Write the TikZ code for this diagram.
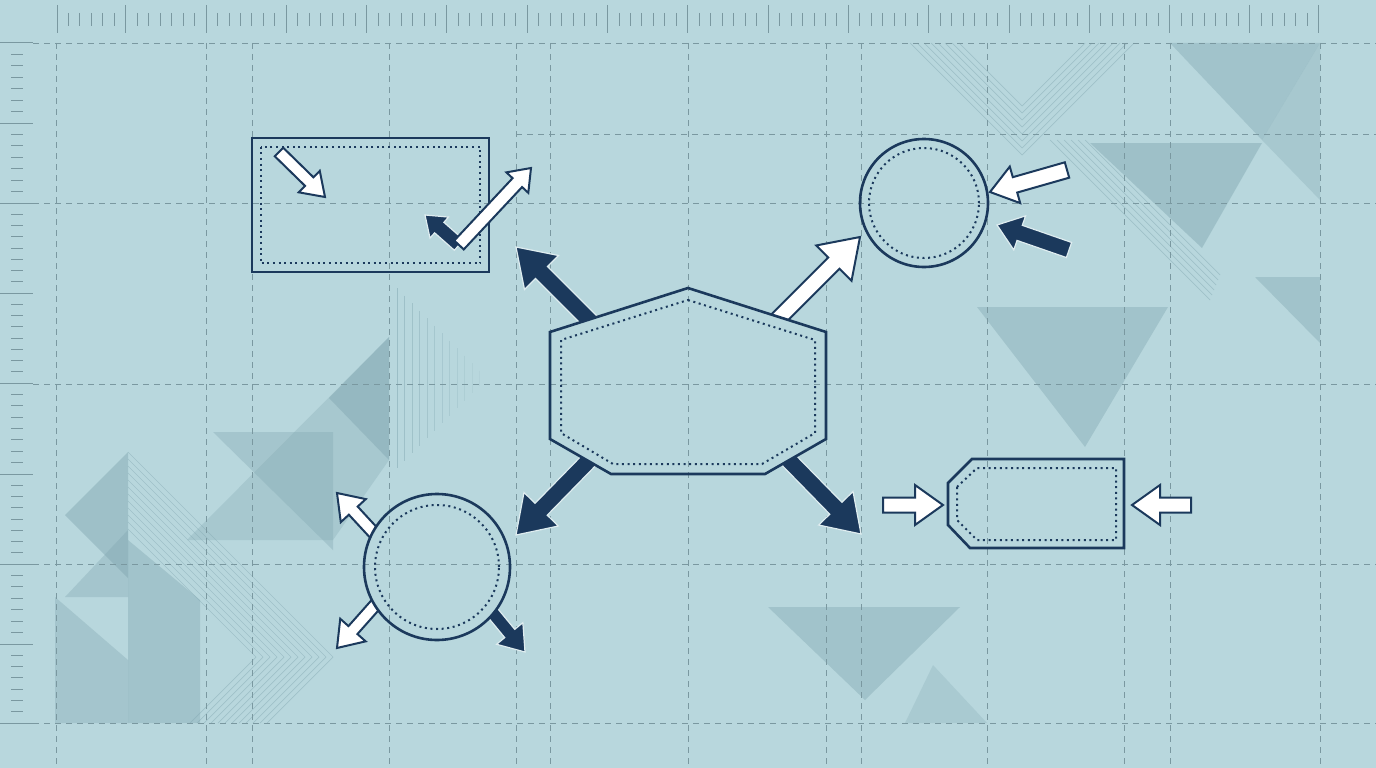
\documentclass[tikz,border=0pt]{standalone}
\usetikzlibrary{calc}

\definecolor{paper}{RGB}{184,215,221}
\definecolor{navy}{RGB}{27,57,92}
\definecolor{gridgray}{RGB}{122,152,160}
\definecolor{shade}{RGB}{128,166,176}

% fat arrow: style, from, to, half shaft, half head, head length
\newcommand{\fatarrow}[6]{%
  \coordinate (neck) at ($(#3)!#6!(#2)$);
  \draw[#1] ($(#2)!#4!90:(#3)$) -- ($(neck)!#4!-90:(#2)$) -- ($(neck)!#5!-90:(#2)$)
    -- (#3) -- ($(neck)!#5!90:(#2)$) -- ($(neck)!#4!90:(#2)$) -- ($(#2)!#4!-90:(#3)$) -- cycle;
}
\newcommand{\gridlines}{%
  \foreach \gx in {56,206,252,389,516,550,688,826,861,987,1124,1170,1320}
    \draw[gridline] (\gx,43) -- (\gx,768);
  \foreach \gy in {43,203,384,564,723}
    \draw[gridline] (33,\gy) -- (1376,\gy);
  \draw[gridline] (516,134) -- (1376,134);
}
\newcommand{\hubpath}{(688,288) -- (826,332) -- (826,439) -- (765,474) -- (611,474) -- (550,439) -- (550,332) -- cycle}

\begin{document}
\begin{tikzpicture}[x=1pt, y=-1pt,
  gridline/.style={draw=gridgray, line width=0.9pt, dash pattern=on 6pt off 5pt},
  tick/.style={draw=gridgray, line width=1pt},
  tri/.style={fill=shade, fill opacity=#1}, tri/.default=0.45,
  hatch/.style={draw=shade, line width=0.7pt, opacity=0.45},
  outline/.style={draw=navy, line width=2.6pt},
  dotline/.style={draw=navy, line width=2pt, dash pattern=on 2pt off 3.6pt},
  ring/.style={circle, outline, inner sep=0pt},
  darkarrow/.style={fill=navy, draw=white!55!paper, line width=1.2pt, line join=miter},
  lightarrow/.style={fill=white, draw=navy, line width=2pt, line join=miter}]
	\fill[paper] (0,0) rectangle (1376,768);
	\useasboundingbox (0,0) rectangle (1376,768);
	%
	\fill[tri=0.3] (389,337) -- (187,540) -- (333,540) -- (389,460) -- cycle;
	\fill[tri=0.35] (213,432) -- (333,432) -- (333,550) -- cycle;
	\fill[tri] (389,337) -- (389,460) -- (329,398) -- cycle;
	\fill[tri] (128,452) -- (65,515) -- (128,578) -- cycle;
	\fill[tri=0.35] (65,597) -- (128,530) -- (128,597) -- cycle;
	\fill[tri=0.35] (55,597) -- (128,660) -- (128,723) -- (55,723) -- cycle;
	\fill[tri=0.4] (128,540) -- (200,600) -- (200,723) -- (128,723) -- cycle;
	\fill[tri=0.4] (1170,43) -- (1320,43) -- (1262,140) -- cycle;
	\fill[tri=0.3] (1320,43) -- (1320,200) -- (1262,140) -- cycle;
	\fill[tri] (1090,143) -- (1262,143) -- (1202,248) -- cycle;
	\fill[tri=0.4] (1255,277) -- (1320,277) -- (1320,343) -- cycle;
	\fill[tri=0.4] (977,307) -- (1168,307) -- (1085,447) -- cycle;
	\fill[tri=0.4] (768,607) -- (960,607) -- (865,700) -- cycle;
	\fill[tri=0.25] (933,665) -- (905,723) -- (987,723) -- cycle;
	%
	\foreach \i in {0,...,11} {
		\pgfmathsetmacro\ax{333-7*\i}
		\draw[hatch] (128,{657-(\ax-128)}) -- (\ax,657) -- ({\ax-66},723);
	}
	\foreach \i in {0,...,11} {
		\pgfmathsetmacro\hx{397+7.5*\i}
		\pgfmathsetmacro\hl{90*(1-\i/12)}
		\draw[hatch, opacity={0.5*(1-\i/14)}] (\hx,{378-\hl}) -- (\hx,{378+\hl});
	}
	\foreach \i in {0,...,7} {
		\pgfmathsetmacro\vy{155-7*\i}
		\draw[hatch] ({1022-(\vy-43)},43) -- (1022,\vy) -- ({1022+(\vy-43)},43);
	}
	\foreach \i in {0,...,5}
		\draw[hatch] ({1050+7*\i},140) -- ({1050+7*\i+160-5*\i},{140+160-5*\i});
	%
	\gridlines
	%
	\foreach \k in {0,...,110} {
		\pgfmathsetmacro\tx{57+11.47*\k}
		\pgfmathtruncatemacro\ismajor{(\k==0)||(\k==110)||(mod(\k+1,7)==0)}
		\ifnum\ismajor=1 \draw[tick] (\tx,5) -- (\tx,33);
		\else \draw[tick] (\tx,13) -- (\tx,26); \fi
	}
	\foreach \ya/\yb/\ns in {43/123/7,123/203/7,203/293/8,293/383/8,383/474/8,474/564/8,564/644/7,644/723/7} {
		\draw[tick] (0,\ya) -- (33,\ya);
		\pgfmathtruncatemacro\ms{\ns-1}
		\foreach \i in {1,...,\ms}
			\draw[tick] (11,{\ya+(\yb-\ya)*\i/\ns}) -- (23,{\ya+(\yb-\ya)*\i/\ns});
	}
	\draw[tick] (0,723) -- (33,723);
	%
	\coordinate (hub) at (688,381);
	\coordinate (hub-nw) at (602,333);
	\coordinate (hub-ne) at (770,327);
	\coordinate (hub-sw) at (600,449);
	\coordinate (hub-se) at (775,446);
	\coordinate (tip-nw) at (516,247);
	\coordinate (tip-ne) at (860,237);
	\coordinate (tip-sw) at (516,535);
	\coordinate (tip-se) at (861,534);
	\fatarrow{darkarrow}{hub-nw}{tip-nw}{8.5pt}{24pt}{36pt}
	\fatarrow{lightarrow}{hub-ne}{tip-ne}{8pt}{25pt}{37pt}
	\fatarrow{darkarrow}{hub-sw}{tip-sw}{8.5pt}{24pt}{36pt}
	\fatarrow{darkarrow}{hub-se}{tip-se}{8.5pt}{24pt}{36pt}
	%
	\coordinate (bl-nw) at (385,545);
	\coordinate (bl-sw) at (385,594);
	\coordinate (bl-se) at (483,601);
	\coordinate (tip-blnw) at (337,493);
	\coordinate (tip-blsw) at (337,648);
	\coordinate (tip-blse) at (525,652);
	\fatarrow{lightarrow}{bl-nw}{tip-blnw}{6pt}{17pt}{24pt}
	\fatarrow{lightarrow}{bl-sw}{tip-blsw}{6pt}{17pt}{24pt}
	\fatarrow{darkarrow}{bl-se}{tip-blse}{6.5pt}{17pt}{24pt}
	%
	\fill[paper] \hubpath;
	\begin{scope}
		\clip \hubpath;
		\gridlines
	\end{scope}
	\draw[outline, line join=miter] \hubpath;
	\draw[dotline] (688,300) -- (815,340) -- (815,433) -- (762,464) -- (613,464) -- (561,433) -- (561,340) -- cycle;
	%
	\node[circle, fill=paper, inner sep=0pt, minimum size=146pt] (bl) at (437,567) {};
	\begin{scope}
		\clip (bl.center) circle (73pt);
		\gridlines
	\end{scope}
	\draw[outline] (bl.center) circle (73pt);
	\draw[dotline] (bl.center) circle (62pt);
	%
	\node[ring, minimum size=128pt] (tr) at (924,203) {};
	\draw[dotline] (tr.center) circle (55pt);
	\coordinate (tr-a) at (1067,170);
	\coordinate (tr-b) at (1069,250);
	\coordinate (tip-tra) at (990,192);
	\coordinate (tip-trb) at (997,225);
	\fatarrow{lightarrow}{tr-a}{tip-tra}{8pt}{19pt}{26pt}
	\fatarrow{darkarrow}{tr-b}{tip-trb}{8pt}{18pt}{24pt}
	%
	\node[outline, inner sep=0pt, minimum width=237pt, minimum height=134pt] (box) at (370.5,205) {};
	\draw[dotline] ($(box.north west)+(10,10)$) rectangle ($(box.south east)+(-10,-10)$);
	\coordinate (box-a) at (279,152);
	\coordinate (tip-boxa) at (325,197);
	\coordinate (bend) at (459,245);
	\coordinate (tip-bendl) at (425,215);
	\coordinate (tip-bendr) at (531,168);
	\fatarrow{lightarrow}{box-a}{tip-boxa}{6pt}{15pt}{22pt}
	\fatarrow{darkarrow}{bend}{tip-bendl}{7pt}{14pt}{19pt}
	\fatarrow{lightarrow}{bend}{tip-bendr}{6.5pt}{15pt}{20pt}
	%
	\coordinate (tag) at (1036,503);
	\draw[outline, line join=miter] (948,483) -- (972,459) -- (1124,459) -- (1124,548) -- (970,548) -- (948,525) -- cycle;
	\draw[dotline] (957,487) -- (977,468) -- (1116,468) -- (1116,540) -- (977,540) -- (957,520) -- cycle;
	\coordinate (tag-a) at (883,505);
	\coordinate (tag-b) at (1191,505);
	\coordinate (tip-taga) at (943,505);
	\coordinate (tip-tagb) at (1132,505);
	\fatarrow{lightarrow}{tag-a}{tip-taga}{7.5pt}{20pt}{28pt}
	\fatarrow{lightarrow}{tag-b}{tip-tagb}{7.5pt}{20pt}{28pt}
\end{tikzpicture}
\end{document}
